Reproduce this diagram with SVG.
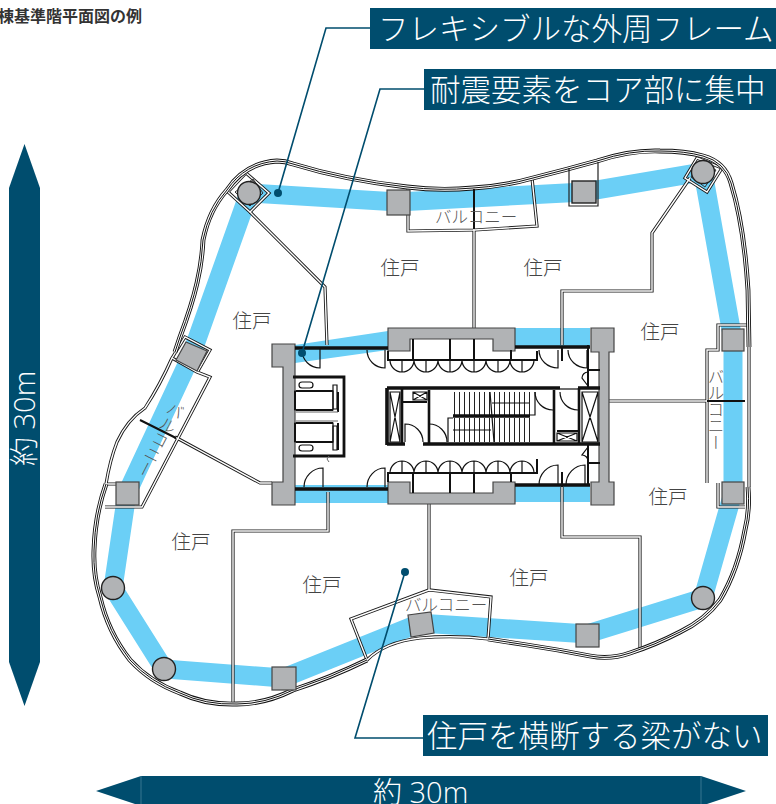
<svg xmlns="http://www.w3.org/2000/svg" xmlns:xlink="http://www.w3.org/1999/xlink" width="776" height="804" viewBox="0 0 776 804">
<style>
text{font-family:"Noto Sans CJK JP","Noto Sans",sans-serif}
.cap{fill:#fff;font-size:30.5px;font-weight:300}
.num{fill:#fff;font-size:29px;font-family:"Open Sans","Noto Sans CJK JP",sans-serif;font-weight:300}
.room{fill:#444;font-size:19.5px;text-anchor:middle;font-weight:300}
.bal{fill:#555;font-size:16.5px;font-weight:300}
.vert{writing-mode:vertical-rl}
.navy{fill:#004d6e}
.leader{fill:none;stroke:#004d6e;stroke-width:1.6}
.dot{fill:#004d6e}
.col{fill:#b1b3b5;stroke:#444;stroke-width:1.2}
.colc{fill:#b1b3b5;stroke:#222;stroke-width:1.4}
.beam{fill:none;stroke:#6bcff6;stroke-width:19}
.beamf{fill:#6bcff6}
.k1{fill:none;stroke:#111;stroke-width:1.2}
.k2{fill:none;stroke:#111;stroke-width:2}
.k3{fill:none;stroke:#111;stroke-width:3.6}
.g1{fill:none;stroke:#666;stroke-width:1}
</style>
<defs>
<g id="wt" fill="none">
<path d="M175,352L180,337Q192,305 197,283Q202,262 203,240Q209,210 227,190Q245,163 277,161Q285,161 293,164Q345,180 407,187Q440,191 473,188Q505,186 533,178Q565,170 597,161Q630,150 660,151Q685,151 703,156Q725,162 731,183Q744,225 748,290L749,347"/>
<path d="M748,487Q750,510 745,530Q738,570 720,600Q705,620 680,632Q655,645 630,653Q610,660 590,656Q560,650 527,645L488,639"/>
<path d="M367,660Q330,678 293,690Q265,704 237,704Q205,705 180,693Q150,682 130,660Q108,632 100,597Q93,575 94,550Q95,515 106,484"/>
</g>
<g id="wd" fill="none">
<path d="M488,639Q455,635 420,638Q385,642 367,660"/>
<path d="M106,484Q110,460 117,442Q127,420 145,408Q160,385 172,358"/>
<path d="M749,347V487"/>
<path d="M250,212L325,287L327,345"/>
<path d="M474,229V329"/>
<path d="M562,345V291H652V233L690,178"/>
<path d="M609,401H707"/>
<path d="M175,437L260,483H272"/>
<path d="M328,492V531H233V702"/>
<path d="M429,504V590"/>
<path d="M562,487V537H640V648"/>
<path d="M408,187V231L475,230L537,226L532,178"/>
<path d="M367,660L351,619L429,590L491,597L488,639"/>
<path d="M707,483V350H718V325H747M718,483V507H745"/>
<path d="M172,358L185,337L210,350L198,371M172,358L197,372L210,377L142,507H105M105,484H116"/>
<path d="M246,173L269,193L250,212L228,192Z"/>
<path d="M697,158L722,168L707,192L685,178Z"/>
</g>
</defs>

<g id="beams">
<path class="beam" d="M249,193L398,202L584,192L703,172L733,340V493L703,598L587,634L420,623L283,678L164,669L113,588L127,493L191,356Z" stroke-linejoin="miter"/>
<path class="beamf" d="M295,345L388,331V350L295,363Z"/>
<path class="beamf" d="M505,328H590V346H505Z"/>
<path class="beamf" d="M295,485H388V503H295Z"/>
<path class="beamf" d="M515,485H590V502H515Z"/>
</g>

<g id="walls">
<use xlink:href="#wd" stroke="#1a1a1a" stroke-width="3.2"/>
<use xlink:href="#wd" stroke="#fff" stroke-width="1.4"/>
<use xlink:href="#wt" stroke="#111" stroke-width="4.8"/>
<use xlink:href="#wt" stroke="#fff" stroke-width="3"/>
<use xlink:href="#wt" stroke="#111" stroke-width="1"/>
<path class="k2" d="M140,420L176,438M707,401H745M474,189V229"/>
<path d="M569,168V206H598V162" fill="none" stroke="#222" stroke-width="1.2"/>
<path d="M253,179L263,193L250,206L235,192Z M699,163L716,170L705,187L691,177Z" fill="none" stroke="#333" stroke-width="1"/>
</g>

<g id="columns">
<rect class="col" x="387" y="190" width="23" height="25"/>
<rect class="colc" x="572" y="181" width="24" height="22"/>
<rect class="col" x="722" y="329" width="22" height="22"/>
<rect class="col" x="722" y="482" width="22" height="22"/>
<rect class="col" x="576" y="624" width="23" height="23"/>
<path class="col" d="M408,615L431,612L434,633L411,637Z"/>
<rect class="col" x="272" y="667" width="24" height="23"/>
<rect class="col" x="116" y="482" width="23" height="23"/>
<path class="col" d="M186,342L207,351L197,371L176,360Z"/>
<circle class="colc" cx="249" cy="193" r="11.5"/>
<circle class="colc" cx="703" cy="172" r="11.5"/>
<circle class="colc" cx="703" cy="598" r="11.5"/>
<circle class="colc" cx="164" cy="669" r="11.5"/>
<circle class="colc" cx="113" cy="588" r="11.5"/>
</g>

<g id="core">
<path class="col" d="M272,344H295V505H272V482H283V367H272Z"/>
<path class="col" d="M591,328H614V352H609V482H614V505H591V482H599V352H591Z"/>
<path class="col" d="M388,328H515V351H493V339H410V351H388Z"/>
<path class="col" d="M388,482H410V493H493V482H515V504H388Z"/>
<path class="k3" d="M295,348H388M295,489H388M515,347H590M515,485H590"/>
<path class="k3" d="M562,347V361M562,472V487" style="stroke-width:2"/>
<path class="k2" d="M388,351V360H537V351M388,482V473H537V459M413,339V360M450,339V360M474,339V360M511,350V360M413,473V493M450,473V493M474,473V493M511,473V482"/>
<path class="k1" d="M390,360a12,12 0 0 0 24,0a12,12 0 0 0 24,0a12,12 0 0 0 24,0a12,12 0 0 0 24,0a12,12 0 0 0 24,0a12,12 0 0 0 24,0M402,360v12M426,360v12M450,360v12M474,360v12M498,360v12M522,360v12"/>
<path class="k1" d="M390,473a12,12 0 0 1 24,0a12,12 0 0 1 24,0a12,12 0 0 1 24,0a12,12 0 0 1 24,0a12,12 0 0 1 24,0a12,12 0 0 1 24,0M402,473v-12M426,473v-12M450,473v-12M474,473v-12M498,473v-12M522,473v-12"/>
<path class="k1" d="M320,348V368A18,18 0 0 1 302,350M385,350V368A18,18 0 0 1 367,350M558,350V368A19,18 0 0 1 539,350M587,350V368A19,18 0 0 1 568,350M323,487V468A19,19 0 0 0 304,487M385,487V468A18,19 0 0 0 367,487M558,485V465A19,20 0 0 0 539,485M585,485V465A19,20 0 0 0 566,485"/>
<path class="k2" d="M588,345V388M588,445V485M588,370H600M578,388H600M588,463H600"/>
<path class="k1" d="M588,372A6,6 0 0 0 582,378L588,386M588,461A6,6 0 0 0 582,455L588,447"/>

<path class="k3" d="M387,388H560M578,388H600M387,444H405M423,444H600M387,388V445"/>
<path class="k1" d="M560,389H578"/>
<path class="k3" d="M402,388V444M429,390V445M554,390V444M579,388V444" style="stroke-width:2.6"/>
<path class="k1" d="M390,392H400V442H390ZM390,392L400,442M400,392L390,442M582,392H598V442H582ZM582,392L598,442M598,392L582,442M413,392H427V400H413ZM413,392L427,400M427,392L413,400M557,433H577V441H557ZM557,433L577,441M577,433L557,441"/>
<path class="k2" d="M403,402H427M557,431H579"/>
<path class="k1" d="M405,442V424A18,18 0 0 1 423,442M429,424A18,18 0 0 1 447,442M535,392A18,18 0 0 0 553,410M560,392A18,18 0 0 0 578,410"/>
<path fill="none" stroke="#222" stroke-width="23" stroke-dasharray="1 4" d="M454,403.5H530"/>
<path fill="none" stroke="#222" stroke-width="24" stroke-dasharray="1 4" d="M454,430H530"/>
<path class="k3" d="M453,416H530"/>
<path class="k1" d="M492,403H529M453,430H491M448,442V418H453M530,415H535V392M490,392L494,442"/>

<path class="k3" d="M293,377H344V456H293" style="stroke-width:2.8"/>
<path class="k1" d="M295,391H333V410H295ZM295,423H333V442H295Z"/>
<path class="k2" d="M295,391V410M295,423V442M296,410H333M296,423H333M296,391H333M296,442H333M338,392V412M338,423V450"/>
<path class="g1" d="M296,412H338M296,421H338"/>
<path class="k1" d="M333,385H337V409H333ZM333,426H337V450H333Z"/>
<rect class="k1" x="299" y="382" width="14" height="6" rx="3"/>
<rect class="k1" x="299" y="445" width="14" height="6" rx="3"/>
<path class="g1" d="M329,456L327,459L329,462"/>
</g>

<g id="labels">
<text class="room" x="400" y="275">住戸</text>
<text class="room" x="543" y="275">住戸</text>
<text class="room" x="660" y="339">住戸</text>
<text class="room" x="252" y="328">住戸</text>
<text class="room" x="668" y="504">住戸</text>
<text class="room" x="191" y="549">住戸</text>
<text class="room" x="322" y="592">住戸</text>
<text class="room" x="529" y="585">住戸</text>
<text class="bal" x="435" y="223">バルコニー</text>
<text class="bal" x="405" y="611">バルコニー</text>
<text class="bal vert" x="716" y="368">バルコニー</text>
<text class="bal vert" transform="translate(179,403) rotate(27)" x="0" y="0">バルコニー</text>
</g>

<g id="connectors">
<path class="leader" d="M370,28H326L278,193"/>
<path class="leader" d="M424,89H380L302,353"/>
<path class="leader" d="M423,738H355L405,572"/>
<circle class="dot" cx="278" cy="193" r="4"/>
<circle class="dot" cx="302" cy="353" r="4"/>
<circle class="dot" cx="405" cy="572" r="4"/>
</g>

<g id="title">
<text x="142" y="22" text-anchor="end" font-size="16" font-weight="700" fill="#333">棟基準階平面図の例</text>
</g>
<g id="callout-frame">
<rect class="navy" x="370" y="8" width="406" height="41"/>
<text class="cap" x="378" y="40">フレキシブルな外周フレーム</text>
</g>
<g id="callout-core">
<rect class="navy" x="424" y="69" width="352" height="41"/>
<text class="cap" x="430" y="101">耐震要素をコア部に集中</text>
</g>
<g id="callout-beam">
<rect class="navy" x="423" y="715" width="345" height="41"/>
<text class="cap" x="427" y="747">住戸を横断する梁がない</text>
</g>
<g id="dim-vertical">
<path class="navy" d="M24.5,144L40,188V662L24.5,706L9,662V188Z"/>
<text class="num" transform="translate(35,466) rotate(-90)">約 30m</text>
</g>
<g id="dim-horizontal">
<path class="navy" d="M96,791L141,776H701L746,791L701,806H141Z"/>
<path d="M141,776V804M701,776V804" stroke="#5d90a8" stroke-width="0.6" fill="none"/>
<text class="num" x="373" y="803">約 30m</text>
</g>
</svg>
